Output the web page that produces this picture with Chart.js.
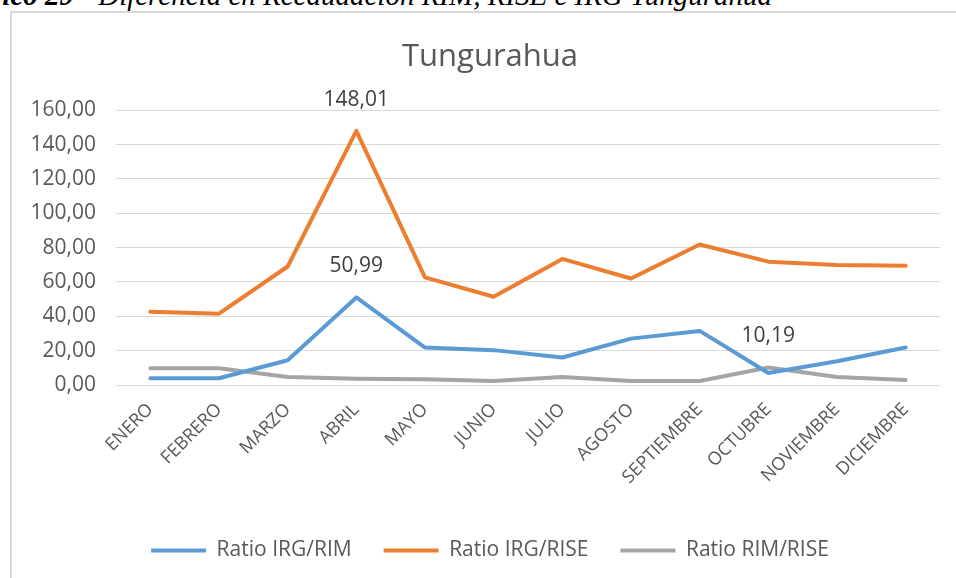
<!DOCTYPE html>
<html>
<head>
<meta charset="utf-8">
<script src="https://cdn.jsdelivr.net/npm/chart.js@4/dist/chart.umd.min.js"></script>
<style>
  html, body { margin: 0; padding: 0; background: #fff; overflow: hidden; }
  body { width: 956px; height: 578px; position: relative; }
  .caption {
    position: absolute; right: 184px; top: -19px;
    font-family: "Liberation Serif", serif; font-style: italic; font-size: 29px;
    line-height: 29px; white-space: nowrap; color: #000;
  }
  .box {
    position: absolute; left: 10px; top: 11px; width: 960px; height: 580px;
    border: 2px solid #d9d9d9;
  }
  .box canvas { position: absolute; left: 0; top: 0; }
</style>
</head>
<body>
<div class="caption"><b>Gráfico 29</b> - Diferencia en Recaudación RIM, RISE e IRG Tungurahua</div>
<div class="box"><canvas id="chart" width="956" height="578"></canvas></div>
<script>
const months = ["ENERO", "FEBRERO", "MARZO", "ABRIL", "MAYO", "JUNIO", "JULIO",
  "AGOSTO", "SEPTIEMBRE", "OCTUBRE", "NOVIEMBRE", "DICIEMBRE"];
const seriesNames = ["Ratio IRG/RIM", "Ratio IRG/RISE", "Ratio RIM/RISE"];
const seriesColors = ["#5b9bd5", "#ed7d31", "#a5a5a5"];
const ratioIrgRim = [3.9, 3.9, 14.4, 50.99, 21.8, 20.3, 16.0, 27.0, 31.5, 7.0, 13.8, 21.8];
const ratioIrgRise = [42.6, 41.5, 69.0, 148.01, 62.7, 51.4, 73.4, 62.0, 81.8, 71.8, 69.8, 69.5];
const ratioRimRise = [9.7, 9.7, 4.7, 3.6, 3.3, 2.3, 4.7, 2.3, 2.3, 10.19, 4.7, 2.9];
const yTicks = [0, 20, 40, 60, 80, 100, 120, 140, 160];
// which points get a value label: [dataset, index]
const labelled = [[1, 3], [0, 3], [2, 9]];

const fmt = (v) => v.toFixed(2).replace(".", ",");
const font = '"Open Sans", "Noto Sans", sans-serif';

// value labels above the chosen points
const valueLabels = {
  id: "valueLabels",
  afterDatasetsDraw(chart) {
    const c = chart.ctx;
    c.save();
    c.font = "21px " + font;
    c.fillStyle = "#404040";
    c.textAlign = "center";
    c.textBaseline = "middle";
    labelled.forEach(([d, i]) => {
      const pt = chart.getDatasetMeta(d).data[i];
      const v = chart.data.datasets[d].data[i];
      c.fillText(fmt(v), pt.x, pt.y - 31);
    });
    c.restore();
  },
};

const makeSet = (k, data) => ({
  label: seriesNames[k],
  data: data,
  borderColor: seriesColors[k],
  backgroundColor: seriesColors[k],
  pointBorderColor: seriesColors[k],
  pointBorderWidth: 4,
});

new Chart(document.getElementById("chart"), {
  type: "line",
  data: {
    labels: months,
    datasets: [
      makeSet(0, ratioIrgRim),
      makeSet(1, ratioIrgRise),
      makeSet(2, ratioRimRise),
    ],
  },
  options: {
    responsive: false,
    animation: false,
    layout: { padding: { left: 0, right: 0, top: 0, bottom: 20 } },
    elements: {
      line: { borderWidth: 4, tension: 0, borderCapStyle: "round", borderJoinStyle: "round" },
      point: { radius: 0 },
    },
    plugins: {
      title: {
        display: true,
        text: "Tungurahua",
        color: "#595959",
        font: { family: font, size: 31, weight: "normal" },
        padding: { top: 26, bottom: 34 },
      },
      legend: {
        position: "bottom",
        labels: {
          usePointStyle: true,
          pointStyle: "line",
          pointStyleWidth: 55,
          boxHeight: 4,
          color: "#595959",
          padding: 32,
          font: { family: font, size: 21 },
        },
      },
      tooltip: { enabled: false },
    },
    scales: {
      x: {
        offset: true,
        grid: { display: false },
        border: { display: false },
        ticks: {
          color: "#595959",
          font: { family: font, size: 18 },
          minRotation: 45,
          maxRotation: 45,
          padding: 6,
        },
        afterFit(scale) { scale.height = 123; },
      },
      y: {
        min: 0,
        max: 160,
        afterBuildTicks(scale) { scale.ticks = yTicks.map((v) => ({ value: v })); },
        grid: { color: "#d9d9d9", lineWidth: 1, drawTicks: false },
        border: { display: false },
        ticks: {
          color: "#595959",
          font: { family: font, size: 21 },
          padding: 20,
          callback: (v) => fmt(v),
        },
        afterFit(scale) { scale.width = 104; },
      },
      // empty right-hand spacer so the plot stops short of the box edge
      spacer: {
        position: "right",
        display: true,
        grid: { display: false },
        border: { display: false },
        ticks: { display: false },
        afterFit(scale) { scale.width = 28; },
      },
    },
  },
  plugins: [valueLabels],
});
</script>
</body>
</html>
